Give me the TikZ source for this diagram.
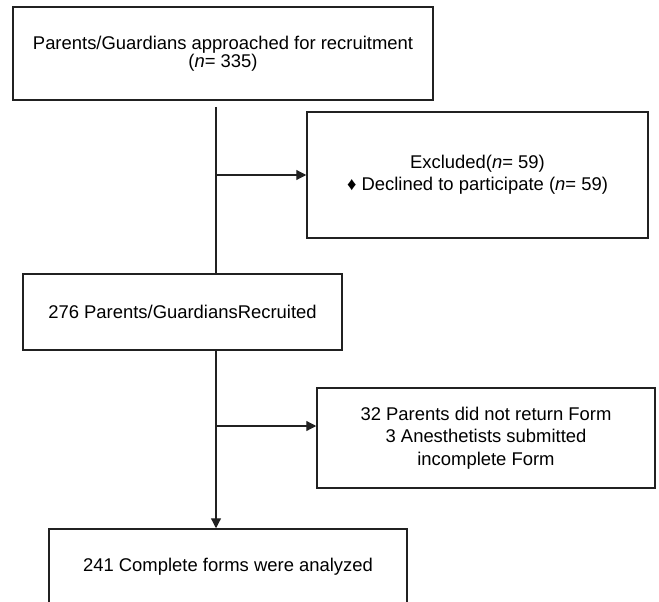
\documentclass[tikz,border=0pt]{standalone}
\usepackage{fontspec}
\setmainfont{Liberation Sans}
\usetikzlibrary{arrows.meta}
\begin{document}
\begin{tikzpicture}[x=1bp,y=-1bp]
% \clip (0,0) rectangle (659,602);
\definecolor{r34g34b34}{rgb}{0.130000,0.130000,0.130000}%
\tikzset{
  flowbox/.style={draw=r34g34b34, line width=1.5bp, rectangle, align=center,
    inner sep=0pt, font=\fontsize{18.5}{22.5}\selectfont},
  flowline/.style={draw=r34g34b34, line width=1.2bp},
  flowarrow/.style={flowline, -{Triangle[length=10bp,width=10bp]}}
}
\useasboundingbox (0,0) rectangle (659,602);

% Drawing boxes
\node (approach) at (223.0,53.5) [flowbox, minimum width=420bp, minimum height=93bp,
  font=\fontsize{18.5}{18.5}\selectfont]
  {Parents/Guardians approached for recruitment\\(\textit{n}= 335)};%
\node (exclude) at (477.5,175.0) [flowbox, minimum width=341bp, minimum height=126bp]
  {Excluded(\textit{n}= 59)\\♦ Declined to participate (\textit{n}= 59)};%
\node (recruit) at (182.5,312.0) [flowbox, minimum width=319bp, minimum height=76bp]
  {276 Parents/GuardiansRecruited};%
\node (dropout) at (486.0,438.0) [flowbox, minimum width=338bp, minimum height=100bp]
  {32 Parents did not return Form\\3 Anesthetists submitted\\incomplete Form};%
\node (analyse) at (228.0,567.0) [flowbox, minimum width=358bp, minimum height=76bp]
  {241 Complete forms were analyzed};%

% Drawing trunk and branches
\coordinate (trunk) at (216.0,107.0);%
\coordinate (split1) at (216.0,175.0);%
\coordinate (split2) at (216.0,426.0);%
\draw [flowline] (trunk) -- (trunk |- recruit.north);%
\draw [flowarrow] (split1) -- (split1 -| exclude.west);%
\draw [flowarrow] (trunk |- recruit.south) -- (trunk |- analyse.north);%
\draw [flowarrow] (split2) -- (split2 -| dropout.west);%
\end{tikzpicture}
\end{document}
